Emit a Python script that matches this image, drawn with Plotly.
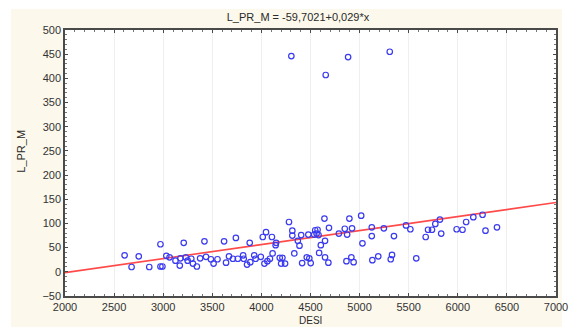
import plotly.graph_objects as go

# Scatter data: DESI (x) vs L_PR_M (y)
desi = [2607, 2678, 2751, 2858, 2972, 2972, 2992, 3032, 3065, 3125, 3169, 3175, 3209, 3229,
        3249, 3286, 3303, 3343, 3376, 3420, 3436, 3486, 3513, 3553, 3620, 3640, 3670, 3710,
        3740, 3760, 3814, 3820, 3854, 3881, 3887, 3927, 3941, 3994, 4014, 4031, 4047, 4061,
        4087, 4107, 4114, 4150, 4145, 4187, 4201, 4214, 4241, 4281, 4315, 4315, 4335, 4371,
        4388, 4405, 4415, 4462, 4478, 4488, 4502, 4538, 4548, 4572, 4562, 4582, 4588, 4605,
        4642, 4648, 4648, 4682, 4688, 4789, 4849, 4866, 4873, 4896, 4916, 4923, 4939, 5016,
        5029, 5124, 5124, 5130, 5190, 5247, 5317, 5330, 5350, 5473, 5517, 5577, 5673, 5697,
        5737, 5771, 5818, 5831, 5988, 6048, 6085, 6158, 6252, 6282, 6399,
        4305, 4655, 4883, 5307]
l_pr_m = [34, 10, 32, 10, 57, 11, 11, 33, 30, 23, 13, 28, 60, 30,
          23, 27, 17, 11, 28, 63, 31, 26, 17, 26, 63, 19, 32, 27,
          70, 27, 34, 27, 15, 60, 20, 34, 27, 31, 72, 17, 82, 22,
          27, 72, 38, 60, 55, 29, 17, 29, 17, 103, 85, 75, 38, 64,
          54, 76, 18, 30, 77, 28, 18, 77, 86, 87, 79, 76, 39, 55,
          110, 64, 30, 19, 91, 79, 89, 22, 77, 110, 30, 90, 20, 116,
          59, 92, 74, 24, 32, 90, 26, 35, 74, 96, 88, 28, 72, 87,
          87, 99, 108, 79, 88, 87, 103, 113, 118, 85, 92,
          446, 407, 444, 455]

# Regression line parameters from the title
intercept = -59.7021
slope = 0.029
line_x = [2000, 7000]
line_y = [intercept + slope * v for v in line_x]

x_ticks = [2000, 2500, 3000, 3500, 4000, 4500, 5000, 5500, 6000, 6500, 7000]
y_ticks = [-50, 0, 50, 100, 150, 200, 250, 300, 350, 400, 450, 500]

FONT = "Liberation Sans, Arial, sans-serif"

fig = go.Figure()
fig.add_trace(go.Scatter(
    x=line_x, y=line_y, mode="lines",
    line=dict(color="#ff4a4a", width=1.6), hoverinfo="skip", showlegend=False))
fig.add_trace(go.Scatter(
    x=desi, y=l_pr_m, mode="markers",
    marker=dict(symbol="circle-open", size=5.5, color="#3a3af0", line=dict(width=1.2)),
    showlegend=False))

# The page body has an 8px default margin, so the figure starts at (8, 8) in the window.
OFF = 8
WIN_W, WIN_H = 580, 327
W, H = WIN_W - OFF, WIN_H - OFF
# plot area in window pixels: left=65, right=564, top=30, bottom=296
L, R, T, B = 65 - OFF, WIN_W - 564, 30 - OFF, WIN_H - 296
pw, ph = W - L - R, H - T - B

def px_to_paper_x(px):  # window px -> paper
    return (px - OFF - L) / pw

def py_to_paper_y(py):  # window px -> paper
    return (H - B - (py - OFF)) / ph

axis_common = dict(
    showline=True, linecolor="#4a4a4a", linewidth=1.5, mirror="allticks",
    ticks="inside", ticklen=3, tickcolor="#4a4a4a", tickwidth=1,
    tickfont=dict(family=FONT, size=11, color="#333333"),
    zeroline=False,
)

fig.update_layout(
    width=W, height=H,
    margin=dict(l=L, r=R, t=T, b=B),
    paper_bgcolor="white", plot_bgcolor="white",
    title=dict(text="L_PR_M = -59,7021+0,029*x", x=(298 - OFF) / W, xanchor="center",
               y=1 - (17 - OFF) / H, yanchor="middle",
               font=dict(family=FONT, size=11, color="#2a2a2a")),
    xaxis=dict(range=[2000, 7000], tickvals=x_ticks, showgrid=True,
               gridcolor="#efefef", gridwidth=1,
               minor=dict(dtick=100, ticks="inside", ticklen=2, tickcolor="#777", showgrid=False),
               **axis_common),
    yaxis=dict(range=[-50, 500], tickvals=y_ticks, showgrid=False,
               minor=dict(dtick=10, ticks="inside", ticklen=2, tickcolor="#777", showgrid=False),
               **axis_common),
    shapes=[
        dict(type="rect", xref="paper", yref="paper", layer="below",
             x0=px_to_paper_x(10), x1=px_to_paper_x(570),
             y0=py_to_paper_y(327), y1=py_to_paper_y(9),
             fillcolor="#fcf8ec", line=dict(width=0)),
        dict(type="rect", xref="paper", yref="paper", layer="below",
             x0=0, x1=1, y0=0, y1=1, fillcolor="white", line=dict(width=0)),
    ],
    annotations=[
        dict(text="L_PR_M", xref="paper", yref="paper",
             x=px_to_paper_x(20), y=py_to_paper_y(151), textangle=-90,
             showarrow=False, xanchor="center", yanchor="middle",
             font=dict(family=FONT, size=11, color="#2a2a2a")),
        dict(text="DESI", xref="paper", yref="paper",
             x=px_to_paper_x(314), y=py_to_paper_y(327), xanchor="center", yanchor="bottom",
             borderpad=0, showarrow=False,
             font=dict(family=FONT, size=10, color="#2a2a2a")),
    ],
)

fig.write_html("out.html", config={"displayModeBar": False})
